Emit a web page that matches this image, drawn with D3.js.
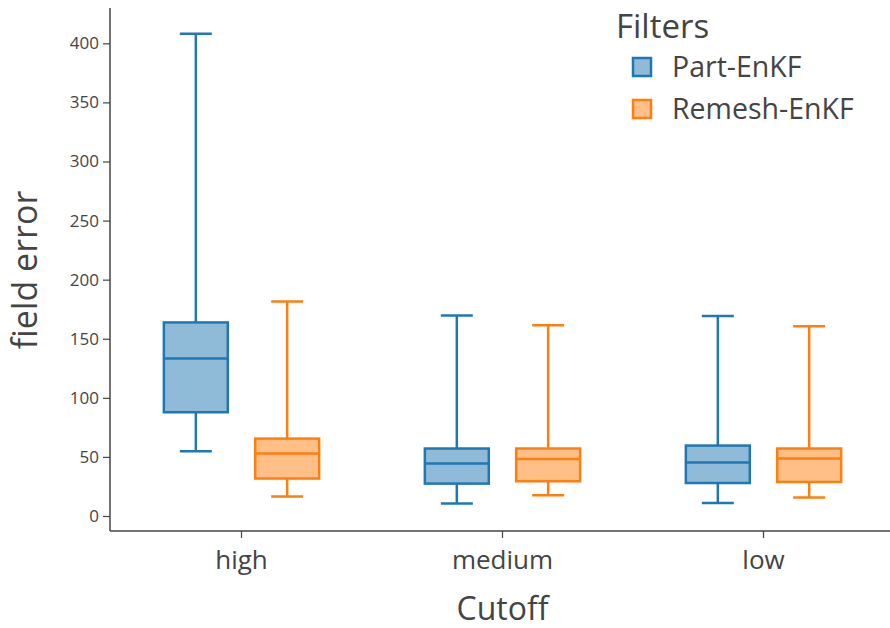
<!DOCTYPE html>
<html>
<head>
<meta charset="utf-8">
<script src="https://cdn.jsdelivr.net/npm/d3@7"></script>
<style>
  html, body { margin: 0; padding: 0; background: #fff; }
  svg { display: block; font-family: "Open Sans", "Noto Sans", sans-serif; }
</style>
</head>
<body>
<svg id="chart" width="890" height="628"></svg>
<script>
// Cutoff levels on the x axis
const categories = ["high", "medium", "low"];
// Filter names (legend entries)
const seriesNames = ["Part-EnKF", "Remesh-EnKF"];
// Box statistics per cutoff: [lower whisker, Q1, median, Q3, upper whisker]
const partEnKF = [
  [54.8, 87.8, 133.3, 163.8, 408.1],
  [10.5, 27.4, 44.4, 57.1, 169.7],
  [11.0, 27.9, 45.2, 59.6, 169.3]
];
const remeshEnKF = [
  [16.4, 31.7, 52.8, 65.5, 181.5],
  [17.5, 29.4, 48.3, 57.1, 161.5],
  [15.6, 28.8, 48.6, 57.1, 160.6]
];
const yTicks = [0, 50, 100, 150, 200, 250, 300, 350, 400];

const lineColors = ["#1f77b4", "#ff7f0e"];
const fillColors = ["rgba(31,119,180,0.5)", "rgba(255,127,14,0.5)"];
const axisColor = "#444";
const textColor = "#444";
const fontFamily = '"Open Sans", "Noto Sans", sans-serif';

const svg = d3.select("#chart");
const margin = { left: 111, top: 8, right: -4, bottom: 97 };
const W = 890, H = 628;
const plotBottom = H - margin.bottom;

const x = d3.scaleBand().domain(categories).range([margin.left, W - margin.right]);
const y = d3.scaleLinear().domain([-12.7, 429.9]).range([plotBottom, margin.top]);

// Each group spans 70% of the category band; each box 70% of its slot
const groupW = x.bandwidth() * 0.7;
const slotW = groupW / seriesNames.length;
const boxW = slotW * 0.7;
const capW = boxW * 0.5;
function boxCenter(cat, si) {
  return x(cat) + x.bandwidth() / 2 - groupW / 2 + slotW * (si + 0.5);
}

// Axes
const yAxis = d3.axisLeft(y).tickValues(yTicks).tickSize(7).tickPadding(4).tickSizeOuter(0);
const gy = svg.append("g").attr("transform", `translate(${margin.left - 1},0)`).call(yAxis)
  .attr("font-family", fontFamily).attr("font-size", 17);
gy.select(".domain").attr("stroke", axisColor).attr("stroke-width", 1.5)
  .attr("d", `M0,${plotBottom}V${margin.top}`);
gy.selectAll(".tick line").attr("stroke", axisColor).attr("stroke-width", 1.2);
gy.selectAll(".tick text").attr("fill", textColor);

const xAxis = d3.axisBottom(x).tickSize(7).tickPadding(13).tickSizeOuter(0);
const gx = svg.append("g").attr("transform", `translate(0,${plotBottom})`).call(xAxis)
  .attr("font-family", fontFamily).attr("font-size", 26);
gx.select(".domain").attr("stroke", axisColor).attr("stroke-width", 1.5)
  .attr("d", `M${margin.left - 1},0H${W}`);
gx.selectAll(".tick line").attr("stroke", axisColor).attr("stroke-width", 1.2);
gx.selectAll(".tick text").attr("fill", textColor);

// Axis titles
svg.append("text")
  .attr("x", x("medium") + x.bandwidth() / 2)
  .attr("y", 620)
  .attr("text-anchor", "middle")
  .attr("fill", textColor)
  .style("font-size", "32px")
  .text("Cutoff");

svg.append("text")
  .attr("transform", `translate(37,270) rotate(-90)`)
  .attr("text-anchor", "middle")
  .attr("fill", textColor)
  .style("font-size", "34px")
  .text("field error");

// Boxes
const allSeries = [partEnKF, remeshEnKF];
allSeries.forEach((data, si) => {
  const g = svg.append("g");
  data.forEach((s, ci) => {
    const cx = boxCenter(categories[ci], si);
    const [lo, q1, med, q3, hi] = s;
    const stroke = lineColors[si];
    // whiskers
    g.append("line").attr("x1", cx).attr("x2", cx).attr("y1", y(q3)).attr("y2", y(hi))
      .attr("stroke", stroke).attr("stroke-width", 2.5);
    g.append("line").attr("x1", cx).attr("x2", cx).attr("y1", y(q1)).attr("y2", y(lo))
      .attr("stroke", stroke).attr("stroke-width", 2.5);
    g.append("line").attr("x1", cx - capW / 2).attr("x2", cx + capW / 2).attr("y1", y(hi)).attr("y2", y(hi))
      .attr("stroke", stroke).attr("stroke-width", 2.5);
    g.append("line").attr("x1", cx - capW / 2).attr("x2", cx + capW / 2).attr("y1", y(lo)).attr("y2", y(lo))
      .attr("stroke", stroke).attr("stroke-width", 2.5);
    // box
    g.append("rect").attr("x", cx - boxW / 2).attr("y", y(q3))
      .attr("width", boxW).attr("height", y(q1) - y(q3))
      .attr("fill", fillColors[si]).attr("stroke", stroke).attr("stroke-width", 2.5);
    // median
    g.append("line").attr("x1", cx - boxW / 2).attr("x2", cx + boxW / 2).attr("y1", y(med)).attr("y2", y(med))
      .attr("stroke", stroke).attr("stroke-width", 2.5);
  });
});

// Legend
const legend = svg.append("g").attr("transform", "translate(616,0)");
legend.append("text").attr("x", 0).attr("y", 38).attr("fill", textColor)
  .style("font-size", "33px").text("Filters");
seriesNames.forEach((name, i) => {
  const ry = 67 + i * 42;
  legend.append("rect").attr("x", 17).attr("y", ry - 9).attr("width", 18).attr("height", 18)
    .attr("fill", fillColors[i]).attr("stroke", lineColors[i]).attr("stroke-width", 2.5);
  legend.append("text").attr("x", 56).attr("y", ry + 10).attr("fill", textColor)
    .style("font-size", "28.5px").text(name);
});
</script>
</body>
</html>
